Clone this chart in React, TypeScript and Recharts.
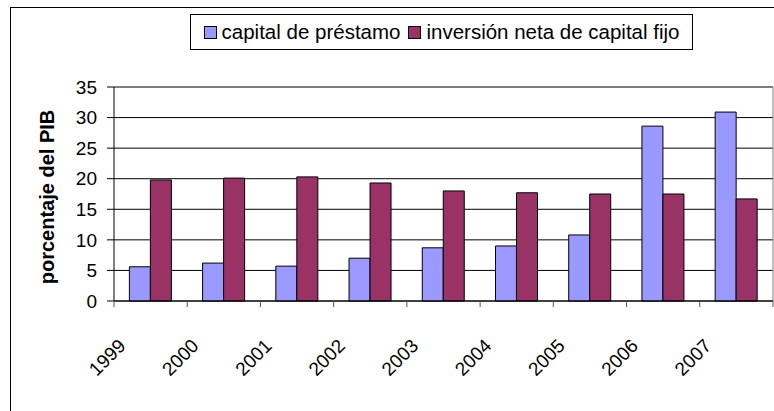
import { BarChart, Bar, XAxis, YAxis, CartesianGrid, Legend, ReferenceLine } from 'recharts';

const years = ['1999', '2000', '2001', '2002', '2003', '2004', '2005', '2006', '2007'];
const loanCapital = [5.6, 6.2, 5.7, 7.0, 8.7, 9.0, 10.8, 28.6, 30.9];
const netFixedInvestment = [19.8, 20.1, 20.3, 19.3, 18.0, 17.7, 17.5, 17.5, 16.7];
const yTicks = [0, 5, 10, 15, 20, 25, 30, 35];

const seriesNames = ['capital de préstamo', 'inversión neta de capital fijo'];
const seriesColors = ['#9999FF', '#993366'];

const data = years.map((year, i) => ({
  year,
  loan: loanCapital[i],
  investment: netFixedInvestment[i],
}));

const FONT = "'Liberation Sans', Arial, sans-serif";
const CHART_W = 774;
const CHART_H = 411;
const MARGIN = { top: 51, right: 1, bottom: 0, left: 54 };
const Y_AXIS_W = 60;
// width of one category band, used for the boundary tick marks
const STEP = (CHART_W - MARGIN.left - Y_AXIS_W - MARGIN.right) / years.length;

const YearTick = (props: any) => {
  const { x, y, payload, index } = props;
  const half = STEP / 2;
  return (
    <g>
      <line x1={x - half} x2={x - half} y1={y} y2={y + 6} stroke="#555" />
      {index === years.length - 1 && (
        <line x1={x + half} x2={x + half} y1={y} y2={y + 6} stroke="#555" />
      )}
      <text
        transform={`translate(${x - 24},${y + 46}) rotate(-45)`}
        textAnchor="end"
        fontSize={19}
        fontFamily={FONT}
        fill="#000"
      >
        {payload.value}
      </text>
    </g>
  );
};

const renderLegend = () => (
  <div
    style={{
      boxSizing: 'border-box',
      height: 36,
      border: '1px solid #000',
      background: '#fff',
      display: 'flex',
      alignItems: 'center',
      justifyContent: 'center',
      fontFamily: FONT,
      fontSize: 20.5,
      color: '#000',
      whiteSpace: 'nowrap',
    }}
  >
    {seriesNames.map((name, i) => (
      <span key={name} style={{ display: 'inline-flex', alignItems: 'center', marginLeft: i ? 8 : 0 }}>
        <span
          style={{
            display: 'inline-block',
            width: 11,
            height: 11,
            border: '1px solid #000',
            background: seriesColors[i],
            marginRight: 5,
          }}
        />
        {name}
      </span>
    ))}
  </div>
);

const App = () => {
  return (
    <div
      style={{
        position: 'absolute',
        left: 0,
        top: 0,
        width: CHART_W,
        height: CHART_H,
        overflow: 'hidden',
        background: '#fff',
      }}
    >
      <div
        style={{
          position: 'absolute',
          left: 10,
          top: 7,
          width: 820,
          height: 430,
          border: '1px solid #000',
        }}
      />
      <div style={{ position: 'absolute', left: 0, top: 0 }}>
        <BarChart
          width={CHART_W}
          height={CHART_H}
          data={data}
          margin={MARGIN}
          barGap={0}
          barCategoryGap="21%"
        >
          <CartesianGrid stroke="#000" vertical={false} />
          <CartesianGrid
            stroke="#808080"
            horizontal={false}
            verticalCoordinatesGenerator={({ offset }: any) => [offset.left + offset.width]}
          />
          <ReferenceLine y={35} stroke="#808080" />
          <Legend
            verticalAlign="top"
            align="left"
            wrapperStyle={{ top: 14, left: 190, width: 503 }}
            content={renderLegend}
          />
          <XAxis
            dataKey="year"
            height={110}
            axisLine={{ stroke: '#000' }}
            tickLine={false}
            tickSize={0}
            tickMargin={0}
            interval={0}
            tick={<YearTick />}
          />
          <YAxis
            width={Y_AXIS_W}
            domain={[0, 35]}
            ticks={yTicks}
            interval={0}
            axisLine={{ stroke: '#000' }}
            tickLine={{ stroke: '#000' }}
            tickSize={7}
            tickMargin={10}
            tick={{ fontSize: 19, fontFamily: FONT, fill: '#000' }}
            label={{
              value: 'porcentaje del PIB',
              angle: -90,
              position: 'center',
              dx: -37,
              dy: 3,
              style: { fontSize: 20, fontWeight: 'bold', fontFamily: FONT, fill: '#000' },
            }}
          />
          <Bar dataKey="loan" name={seriesNames[0]} fill={seriesColors[0]} stroke="#000" strokeWidth={1} isAnimationActive={false} />
          <Bar dataKey="investment" name={seriesNames[1]} fill={seriesColors[1]} stroke="#000" strokeWidth={1} isAnimationActive={false} />
        </BarChart>
      </div>
    </div>
  );
};

export default App;
